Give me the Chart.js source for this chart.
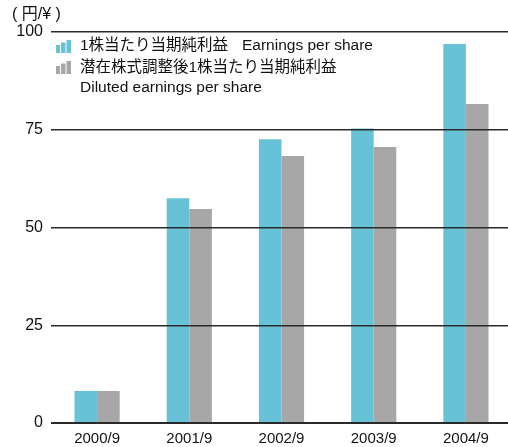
<!DOCTYPE html>
<html>
<head>
<meta charset="utf-8">
<script src="https://cdn.jsdelivr.net/npm/chart.js@4"></script>
<style>
  html, body { margin: 0; padding: 0; background: #fff; overflow: hidden; }
  #wrap { width: 512px; height: 447px; }
</style>
</head>
<body>
<div id="wrap"><canvas id="myChart" width="512" height="447"></canvas></div>
<script>
// datos
const periodos = ["2000/9", "2001/9", "2002/9", "2003/9", "2004/9"];
const epsBasico = [8.2, 57.5, 72.6, 75.3, 96.9];
const epsDiluido = [8.2, 54.7, 68.3, 70.6, 81.6];
const ticksY = [0, 25, 50, 75, 100];

const azul = "#68c2d7";
const gris = "#a7a7a7";
const fuente = "'Liberation Sans', Arial, 'Noto Sans CJK JP', sans-serif";

// leyenda y unidad dibujadas a mano
const leyendaPlugin = {
  id: "leyenda",
  afterDraw(chart) {
    const ctx = chart.ctx;
    ctx.save();
    ctx.fillStyle = "#111";
    ctx.textBaseline = "middle";
    ctx.font = "16px " + fuente;
    ctx.fillText("( 円/¥ )", 12, 15);

    function icono(x, yBase, color) {
      ctx.fillStyle = color;
      ctx.fillRect(x, yBase - 8, 4, 8);
      ctx.fillRect(x + 5, yBase - 10.5, 4.5, 10.5);
      ctx.fillRect(x + 10.5, yBase - 13, 4.5, 13);
    }
    icono(56, 53, azul);
    icono(56, 74, gris);

    ctx.fillStyle = "#111";
    ctx.font = "15.5px " + fuente;
    ctx.fillText("1株当たり当期純利益", 80, 46);
    ctx.fillText("Earnings per share", 242, 46);
    ctx.fillText("潜在株式調整後1株当たり当期純利益", 80, 68);
    ctx.fillText("Diluted earnings per share", 80, 88);
    ctx.restore();
  },
};

const data = {
  labels: periodos,
  datasets: [
    { label: "1株当たり当期純利益", data: epsBasico, backgroundColor: azul },
    { label: "潜在株式調整後1株当たり当期純利益", data: epsDiluido, backgroundColor: gris },
  ],
};

const config = {
  type: "bar",
  data,
  options: {
    responsive: false,
    animation: false,
    layout: { padding: { top: 32, right: 0, bottom: 0, left: 0 } },
    datasets: { bar: { categoryPercentage: 0.49, barPercentage: 1 } },
    plugins: { legend: { display: false }, tooltip: { enabled: false } },
    scales: {
      x: {
        grid: { display: false, drawTicks: false },
        border: { display: false },
        ticks: { color: "#111", font: { size: 15, family: fuente }, padding: 7, maxRotation: 0 },
        afterFit(scale) { scale.height = 24; },
      },
      y: {
        min: 0,
        max: 100,
        afterBuildTicks(scale) { scale.ticks = ticksY.map((v) => ({ value: v })); },
        grid: {
          z: 1,
          drawTicks: false,
          color: "#2a2a2a",
          lineWidth: (c) => (c.tick && c.tick.value === 0 ? 2 : 1.4),
        },
        border: { display: false },
        ticks: { color: "#111", font: { size: 16, family: fuente }, padding: 8 },
        afterFit(scale) { scale.width = 51; },
      },
    },
  },
  plugins: [leyendaPlugin],
};

new Chart(document.getElementById("myChart"), config);
</script>
</body>
</html>
